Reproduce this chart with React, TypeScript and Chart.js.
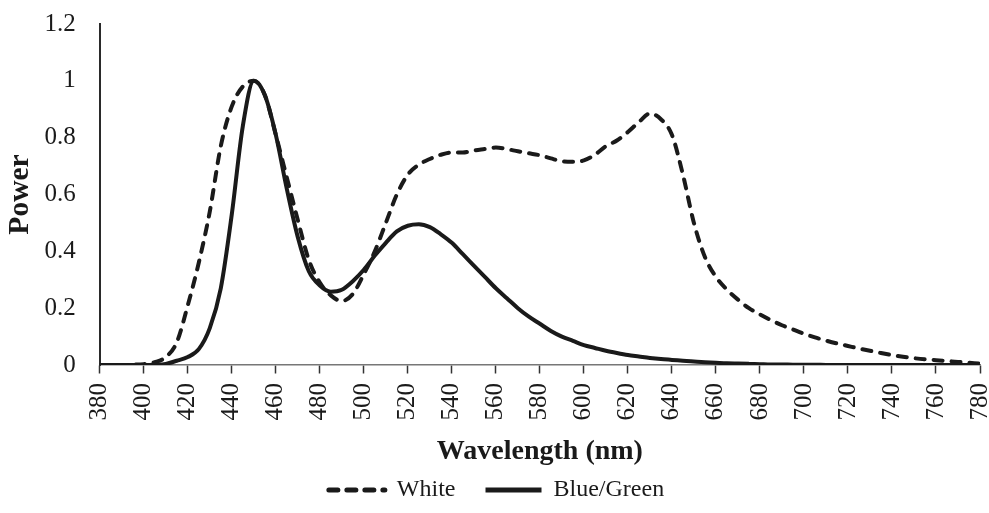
import React, { useEffect, useRef } from "react";
import { Chart, registerables } from "chart.js";

Chart.register(...registerables);

const wavelengths = [
  380, 385, 390, 395, 400, 405, 410, 415, 420, 425, 430, 435, 440, 445, 450, 455, 460, 465, 470, 475,
  480, 485, 490, 495, 500, 505, 510, 515, 520, 525, 530, 535, 540, 545, 550, 555, 560, 565, 570, 575,
  580, 585, 590, 595, 600, 605, 610, 615, 620, 625, 630, 635, 640, 645, 650, 655, 660, 665, 670, 675,
  680, 685, 690, 695, 700, 705, 710, 715, 720, 725, 730, 735, 740, 745, 750, 755, 760, 765, 770, 775, 780,
];

const whitePower = [
  0, 0, 0, 0.001, 0.003, 0.01, 0.028, 0.08, 0.21, 0.36, 0.54, 0.77, 0.91, 0.98, 1.0, 0.95, 0.81, 0.66, 0.51, 0.37,
  0.29, 0.245, 0.225, 0.25, 0.32, 0.4, 0.5, 0.6, 0.67, 0.705, 0.725, 0.74, 0.748, 0.748, 0.755, 0.76, 0.765, 0.76, 0.752, 0.745,
  0.738, 0.727, 0.717, 0.715, 0.72, 0.74, 0.77, 0.79, 0.82, 0.855, 0.885, 0.865, 0.81, 0.67, 0.5, 0.38, 0.31, 0.265, 0.23, 0.2,
  0.178, 0.158, 0.14, 0.125, 0.11, 0.097, 0.086, 0.076, 0.067, 0.058, 0.05, 0.042, 0.035, 0.029, 0.024, 0.02, 0.017, 0.014, 0.011, 0.008, 0.005,
];

const blueGreenPower = [
  0, 0, 0, 0, 0, 0.001, 0.004, 0.015, 0.028, 0.056, 0.13, 0.27, 0.53, 0.84, 1.0, 0.95, 0.81, 0.62, 0.45, 0.33,
  0.28, 0.258, 0.265, 0.295, 0.335, 0.385, 0.43, 0.47, 0.49, 0.495, 0.485, 0.46, 0.43, 0.39, 0.35, 0.31, 0.27, 0.235, 0.2, 0.17,
  0.145, 0.12, 0.1, 0.085, 0.07, 0.06, 0.05, 0.042, 0.035, 0.03, 0.025, 0.021, 0.018, 0.015, 0.012, 0.01, 0.008, 0.006, 0.005, 0.004,
  0.003, 0.002, 0.002, 0.001, 0.001, 0.001, 0, 0, 0, 0, 0, 0, 0, 0, 0, 0, 0, 0, 0, 0, 0,
];

const seriesNames = ["White", "Blue/Green"];
const xTitle = "Wavelength (nm)";
const yTitle = "Power";

const FONT = "'Liberation Serif', 'Times New Roman', serif";
const INK = "#1a1a1a";

export default function App() {
  const ref = useRef<HTMLCanvasElement | null>(null);

  useEffect(() => {
    if (!ref.current) return;
    const chart = new Chart(ref.current, {
      type: "line",
      data: {
        datasets: [
          {
            label: seriesNames[0],
            data: wavelengths.map((w, i) => ({ x: w, y: whitePower[i] })),
            borderColor: INK,
            backgroundColor: INK,
            borderWidth: 4,
            borderDash: [9, 9],
            borderCapStyle: "round",
            pointRadius: 0,
            cubicInterpolationMode: "monotone",
            fill: false,
          },
          {
            label: seriesNames[1],
            data: wavelengths.map((w, i) => ({ x: w, y: blueGreenPower[i] })),
            borderColor: INK,
            backgroundColor: INK,
            borderWidth: 4,
            pointRadius: 0,
            cubicInterpolationMode: "monotone",
            fill: false,
          },
        ],
      },
      options: {
        responsive: false,
        animation: false,
        layout: { padding: { top: 0, right: 0, left: 4, bottom: 1 } },
        plugins: {
          legend: {
            position: "bottom",
            labels: {
              usePointStyle: true,
              pointStyle: "line",
              pointStyleWidth: 56,
              padding: 30,
              color: INK,
              font: { family: FONT, size: 24 },
              generateLabels: (c: any) => {
                const items = (Chart as any).defaults.plugins.legend.labels.generateLabels(c);
                items.forEach((it: any) => {
                  const ds: any = c.data.datasets[it.datasetIndex];
                  it.lineDash = ds.borderDash || [];
                  it.lineCap = ds.borderCapStyle || "butt";
                  it.lineWidth = 5;
                });
                return items;
              },
            },
          },
          tooltip: { enabled: false },
        },
        scales: {
          x: {
            type: "linear",
            min: 380,
            max: 780,
            grid: {
              display: true,
              drawOnChartArea: false,
              drawTicks: true,
              tickLength: 39,
              tickColor: "#333",
              tickWidth: 1.5,
              tickBorderDash: [8, 200],
            },
            border: { display: true, color: "#777", width: 1.5 },
            ticks: {
              stepSize: 20,
              autoSkip: false,
              minRotation: 90,
              maxRotation: 90,
              padding: -21,
              color: INK,
              font: { family: FONT, size: 25 },
            },
            title: {
              display: true,
              text: xTitle,
              color: INK,
              font: { family: FONT, size: 28, weight: "bold", lineHeight: 1 },
              padding: { top: 38.5, bottom: -18 },
            },
          },
          y: {
            min: 0,
            max: 1.2,
            grid: {
              display: true,
              drawOnChartArea: false,
              drawTicks: true,
              tickLength: 15,
              tickColor: "rgba(0,0,0,0)",
            },
            border: { display: true, color: "#2a2a2a", width: 2 },
            ticks: {
              stepSize: 0.2,
              padding: 9,
              color: INK,
              font: { family: FONT, size: 25 },
              callback: (v: any) => String(Math.round(Number(v) * 10) / 10),
            },
            title: {
              display: true,
              text: yTitle,
              color: INK,
              font: { family: FONT, size: 29.5, weight: "bold", lineHeight: 1 },
              padding: { top: 2, bottom: 0 },
            },
          },
        },
      },
    });
    return () => chart.destroy();
  }, []);

  return (
    <div style={{ position: "absolute", left: 0, top: 0, width: 989, height: 513, background: "#fff", overflow: "hidden" }}>
      <canvas ref={ref} width={989} height={513} style={{ display: "block" }} />
    </div>
  );
}
